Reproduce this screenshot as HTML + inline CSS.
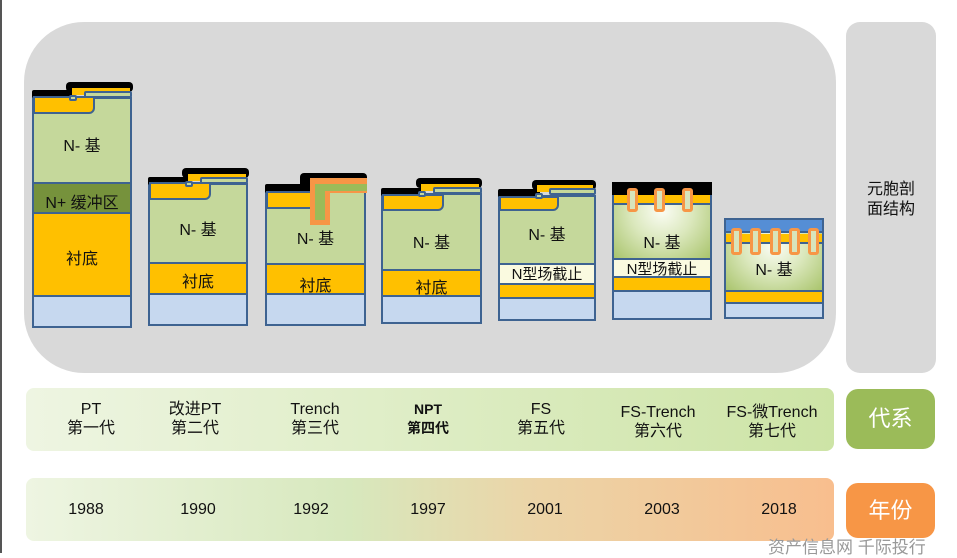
<!DOCTYPE html>
<html><head><meta charset="utf-8"><style>
*{margin:0;padding:0;box-sizing:border-box}
body{width:957px;height:553px;background:#fff;position:relative;overflow:hidden;font-family:"Liberation Sans","Noto Sans CJK SC",sans-serif}
.a{position:absolute}
.bb{position:absolute;border:2px solid #3e6391}
.g{background:#c5d89b}
.y{background:#ffc000}
.bl{background:#c6d8ef}
.gr{background:radial-gradient(ellipse at 50% 25%,#fbfdf5 0%,#dbe8bd 45%,#a9c46c 100%)}
.t{position:absolute;font-size:16px;color:#111;text-align:center;white-space:nowrap}
.blk{position:absolute;background:#000;border-radius:4px}
.ox{position:absolute;background:#c5d89b;border:2px solid #3e6391;border-radius:2px}
.pw{position:absolute;background:#ffc000;border:2px solid #3e6391;border-radius:0 0 6px 0}
.tr{position:absolute;background:#d8e4bc;border:3px solid #f79646;border-radius:3px;width:11px}
.lab{position:absolute;font-size:16px;color:#111;text-align:center;line-height:19px;white-space:nowrap}
</style></head><body>
<div class="a" style="left:0;top:0;width:2px;height:553px;background:#555"></div>
<div class="a" style="left:24px;top:22px;width:812px;height:351px;background:#d9d9d9;border-radius:60px"></div>
<div class="a" style="left:846px;top:22px;width:90px;height:351px;background:#d9d9d9;border-radius:14px"></div>
<div class="lab" style="left:846px;top:180px;width:90px;line-height:20px">元胞剖<br>面结构</div>

<!-- D1 -->
<div class="bb g" style="left:32px;top:97px;width:100px;height:87px"></div>
<div class="bb" style="left:32px;top:182px;width:100px;height:32px;background:#76923c"></div>
<div class="bb y" style="left:32px;top:212px;width:100px;height:85px"></div>
<div class="bb bl" style="left:32px;top:295px;width:100px;height:33px"></div>
<div class="blk" style="left:32px;top:90px;width:42px;height:8px;border-radius:2px"></div>
<div class="blk" style="left:66px;top:82px;width:67px;height:10px"></div>
<div class="a y" style="left:72px;top:88px;width:58px;height:7px"></div>
<div class="pw" style="left:33px;top:96px;width:62px;height:18px"></div>
<div class="ox" style="left:84px;top:91px;width:48px;height:7px"></div>
<div class="ox" style="left:69px;top:95px;width:8px;height:6px"></div>
<div class="t" style="left:32px;top:132px;width:100px">N- 基</div>
<div class="t" style="left:32px;top:189px;width:100px">N+ 缓冲区</div>
<div class="t" style="left:32px;top:245px;width:100px">衬底</div>

<!-- D2 -->
<div class="bb g" style="left:148px;top:183px;width:100px;height:81px"></div>
<div class="bb y" style="left:148px;top:262px;width:100px;height:33px"></div>
<div class="bb bl" style="left:148px;top:293px;width:100px;height:33px"></div>
<div class="blk" style="left:148px;top:177px;width:42px;height:8px;border-radius:2px"></div>
<div class="blk" style="left:182px;top:168px;width:67px;height:10px"></div>
<div class="a y" style="left:188px;top:174px;width:58px;height:7px"></div>
<div class="pw" style="left:149px;top:182px;width:62px;height:18px"></div>
<div class="ox" style="left:200px;top:177px;width:48px;height:7px"></div>
<div class="ox" style="left:185px;top:181px;width:8px;height:6px"></div>
<div class="t" style="left:148px;top:216px;width:100px">N- 基</div>
<div class="t" style="left:148px;top:268px;width:100px">衬底</div>

<!-- D3 -->
<div class="bb g" style="left:265px;top:190px;width:101px;height:75px"></div>
<div class="bb y" style="left:265px;top:263px;width:101px;height:32px"></div>
<div class="bb bl" style="left:265px;top:293px;width:101px;height:33px"></div>
<div class="blk" style="left:265px;top:184px;width:42px;height:9px;border-radius:2px"></div>
<div class="blk" style="left:300px;top:173px;width:67px;height:20px"></div>
<div class="pw" style="left:266px;top:191px;width:46px;height:18px;border-radius:0"></div>
<div class="a" style="left:310px;top:178px;width:57px;height:15px;background:#f79646"></div>
<div class="a" style="left:310px;top:178px;width:20px;height:47px;background:#f79646"></div>
<div class="a" style="left:315px;top:184px;width:52px;height:7px;background:#9bbb59"></div>
<div class="a" style="left:315px;top:184px;width:10px;height:36px;background:#9bbb59"></div>
<div class="t" style="left:265px;top:225px;width:101px">N- 基</div>
<div class="t" style="left:265px;top:272px;width:101px">衬底</div>

<!-- D4 -->
<div class="bb g" style="left:381px;top:193px;width:101px;height:78px"></div>
<div class="bb y" style="left:381px;top:269px;width:101px;height:28px"></div>
<div class="bb bl" style="left:381px;top:295px;width:101px;height:29px"></div>
<div class="blk" style="left:381px;top:188px;width:42px;height:8px;border-radius:2px"></div>
<div class="blk" style="left:416px;top:178px;width:66px;height:10px"></div>
<div class="a y" style="left:421px;top:184px;width:58px;height:7px"></div>
<div class="pw" style="left:382px;top:194px;width:62px;height:17px"></div>
<div class="ox" style="left:433px;top:187px;width:49px;height:7px"></div>
<div class="ox" style="left:418px;top:191px;width:8px;height:6px"></div>
<div class="t" style="left:381px;top:229px;width:101px">N- 基</div>
<div class="t" style="left:381px;top:274px;width:101px">衬底</div>

<!-- D5 -->
<div class="bb g" style="left:498px;top:195px;width:98px;height:70px"></div>
<div class="bb" style="left:498px;top:263px;width:98px;height:22px;background:#fafae0"></div>
<div class="bb y" style="left:498px;top:283px;width:98px;height:16px"></div>
<div class="bb bl" style="left:498px;top:297px;width:98px;height:24px"></div>
<div class="blk" style="left:498px;top:189px;width:42px;height:8px;border-radius:2px"></div>
<div class="blk" style="left:532px;top:180px;width:64px;height:10px"></div>
<div class="a y" style="left:537px;top:185px;width:56px;height:7px"></div>
<div class="pw" style="left:499px;top:196px;width:60px;height:15px"></div>
<div class="ox" style="left:549px;top:188px;width:47px;height:7px"></div>
<div class="ox" style="left:535px;top:193px;width:8px;height:6px"></div>
<div class="t" style="left:498px;top:221px;width:98px">N- 基</div>
<div class="t" style="left:498px;top:263px;width:98px;font-size:15px">N型场截止</div>

<!-- D6 -->
<div class="bb gr" style="left:612px;top:193px;width:100px;height:67px"></div>
<div class="bb" style="left:612px;top:258px;width:100px;height:20px;background:#fafae0"></div>
<div class="bb y" style="left:612px;top:276px;width:100px;height:16px"></div>
<div class="bb bl" style="left:612px;top:290px;width:100px;height:30px"></div>
<div class="a" style="left:612px;top:182px;width:100px;height:13px;background:#000"></div>
<div class="a y" style="left:614px;top:195px;width:96px;height:10px;border-bottom:2px solid #3e6391"></div>
<div class="tr" style="left:627px;top:188px;height:24px"></div>
<div class="tr" style="left:654px;top:188px;height:24px"></div>
<div class="tr" style="left:682px;top:188px;height:24px"></div>
<div class="t" style="left:612px;top:229px;width:100px">N- 基</div>
<div class="t" style="left:612px;top:258px;width:100px;font-size:15px">N型场截止</div>

<!-- D7 -->
<div class="bb gr" style="left:724px;top:230px;width:100px;height:62px"></div>
<div class="bb y" style="left:724px;top:290px;width:100px;height:14px"></div>
<div class="bb bl" style="left:724px;top:302px;width:100px;height:17px"></div>
<div class="bb" style="left:724px;top:218px;width:100px;height:15px;background:#558ed5"></div>
<div class="a y" style="left:726px;top:234px;width:96px;height:10px;border-bottom:2px solid #3e6391"></div>
<div class="tr" style="left:731px;top:228px;height:27px"></div>
<div class="tr" style="left:750px;top:228px;height:27px"></div>
<div class="tr" style="left:770px;top:228px;height:27px"></div>
<div class="tr" style="left:789px;top:228px;height:27px"></div>
<div class="tr" style="left:808px;top:228px;height:27px"></div>
<div class="t" style="left:724px;top:256px;width:100px">N- 基</div>

<!-- bands -->
<div class="a" style="left:26px;top:388px;width:808px;height:63px;border-radius:8px;background:linear-gradient(90deg,#eef5e2,#cde4a6)"></div>
<div class="a" style="left:846px;top:389px;width:89px;height:60px;border-radius:12px;background:#9bbb59;color:#fff;font-size:22px;text-align:center;line-height:60px">代系</div>
<div class="lab" style="left:56px;top:400px;width:70px">PT<br>第一代</div>
<div class="lab" style="left:160px;top:400px;width:70px">改进PT<br>第二代</div>
<div class="lab" style="left:280px;top:400px;width:70px">Trench<br>第三代</div>
<div class="lab" style="left:393px;top:400px;width:70px;font-weight:bold;font-size:14px">NPT<br>第四代</div>
<div class="lab" style="left:506px;top:400px;width:70px">FS<br>第五代</div>
<div class="lab" style="left:608px;top:403px;width:100px">FS-Trench<br>第六代</div>
<div class="lab" style="left:720px;top:403px;width:104px">FS-微Trench<br>第七代</div>

<div class="a" style="left:26px;top:478px;width:808px;height:63px;border-radius:8px;background:linear-gradient(90deg,#eef5e2 0%,#d7e8bd 40%,#ebd5a8 62%,#f8be8e 100%)"></div>
<div class="a" style="left:846px;top:483px;width:89px;height:55px;border-radius:12px;background:#f79646;color:#fff;font-size:22px;text-align:center;line-height:55px">年份</div>
<div class="lab" style="left:56px;top:500px;width:60px">1988</div>
<div class="lab" style="left:168px;top:500px;width:60px">1990</div>
<div class="lab" style="left:281px;top:500px;width:60px">1992</div>
<div class="lab" style="left:398px;top:500px;width:60px">1997</div>
<div class="lab" style="left:515px;top:500px;width:60px">2001</div>
<div class="lab" style="left:632px;top:500px;width:60px">2003</div>
<div class="lab" style="left:749px;top:500px;width:60px">2018</div>
<div class="a" style="left:768px;top:533px;font-size:17px;color:#999;white-space:nowrap;font-family:'Liberation Sans','Noto Sans CJK SC',sans-serif">资产信息网 千际投行</div>
</body></html>
